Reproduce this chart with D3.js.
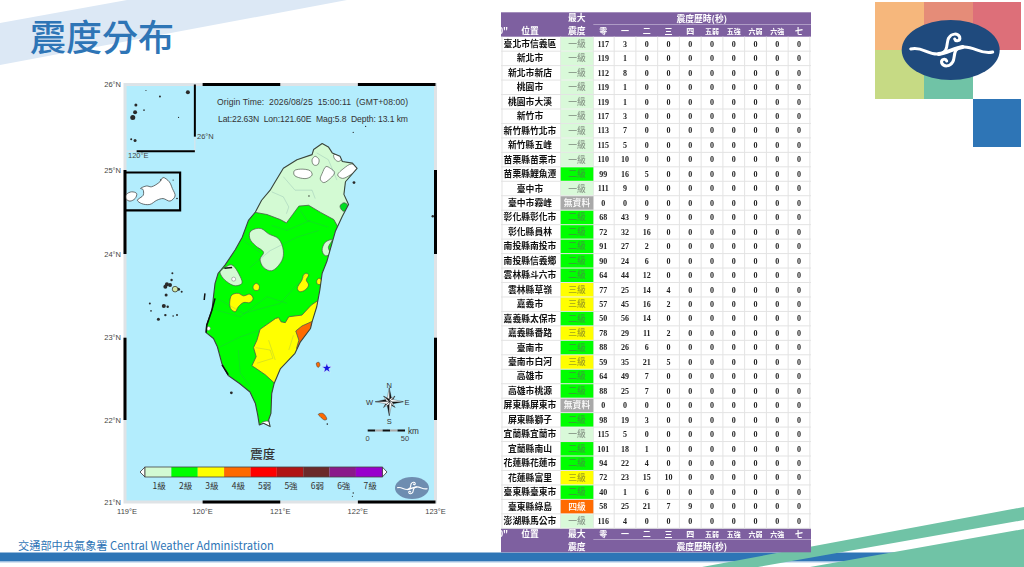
<!DOCTYPE html>
<html><head><meta charset="utf-8"><title>震度分布</title>
<script src="https://cdn.jsdelivr.net/npm/d3@7/dist/d3.min.js"></script>
<style>
html,body{margin:0;padding:0;background:#fff;overflow:hidden}
svg{display:block}
text{white-space:pre}
</style></head><body>
<svg id="c" width="1024" height="567" viewBox="0 0 1024 567"></svg>
<script>
// ---------- station table ----------
const stations=["臺北市信義區","新北市","新北市新店","桃園市","桃園市大溪","新竹市","新竹縣竹北市","新竹縣五峰","苗栗縣苗栗市","苗栗縣鯉魚潭","臺中市","臺中市霧峰","彰化縣彰化市","彰化縣員林","南投縣南投市","南投縣信義鄉","雲林縣斗六市","雲林縣草嶺","嘉義市","嘉義縣太保市","嘉義縣番路","臺南市","臺南市白河","高雄市","高雄市桃源","屏東縣屏東市","屏東縣獅子","宜蘭縣宜蘭市","宜蘭縣南山","花蓮縣花蓮市","花蓮縣富里","臺東縣臺東市","臺東縣綠島","澎湖縣馬公市"];
const maxLevels=["一級","一級","一級","一級","一級","一級","一級","一級","一級","二級","一級","無資料","二級","二級","二級","二級","二級","三級","三級","二級","三級","二級","三級","二級","二級","無資料","二級","一級","二級","二級","三級","二級","四級","一級"];
const durLevels=["零","一","二","三","四","五弱","五強","六弱","六強","七"];
const secLevel0=[117,119,112,119,119,117,113,115,110,99,111,0,68,72,91,90,64,77,57,50,78,88,59,64,88,0,98,115,101,94,72,40,58,116];
const secLevel1=[3,1,8,1,1,3,7,5,10,16,9,0,43,32,27,24,44,25,45,56,29,26,35,49,25,0,19,5,18,22,23,1,25,4];
const secLevel2=[0,0,0,0,0,0,0,0,0,5,0,0,9,16,2,6,12,14,16,14,11,6,21,7,7,0,3,0,1,4,15,6,21,0];
const secLevel3=[0,0,0,0,0,0,0,0,0,0,0,0,0,0,0,0,0,4,2,0,2,0,5,0,0,0,0,0,0,0,10,0,7,0];
const secLevel4=[0,0,0,0,0,0,0,0,0,0,0,0,0,0,0,0,0,0,0,0,0,0,0,0,0,0,0,0,0,0,0,0,9,0];

// ---------- map legend + ticks ----------
const legendLabels=["1級","2級","3級","4級","5弱","5強","6弱","6強","7級"];
const legendColors=["#d3fad3","#00ff00","#ffff00","#ff6a00","#ff0000","#b01515","#6b2a2a","#8a1a8a","#9900cc"];
const lonTicks=[119,120,121,122,123];
const latTicks=[21,22,23,24,25,26];
const latPixels=[502,420,337.7,254,170,84.5];   // Mercator-like spacing of the plotted frame
const epicenter={lon:121.60,lat:22.63};

// ---------- map outlines, [lon,lat] ----------
const taiwan=[[121.54,25.31],[121.43,25.24],[121.41,25.18],[121.215,25.12],[121.04,25.02],[120.935,24.86],[120.87,24.76],[120.76,24.64],[120.68,24.50],[120.59,24.40],[120.51,24.20],[120.42,24.05],[120.29,23.87],[120.20,23.77],[120.16,23.65],[120.14,23.49],[120.12,23.33],[120.05,23.15],[120.045,23.06],[120.14,22.99],[120.19,22.89],[120.25,22.68],[120.33,22.54],[120.48,22.44],[120.61,22.34],[120.68,22.20],[120.71,22.06],[120.73,21.94],[120.785,21.96],[120.87,21.92],[120.85,22.0],[120.88,22.08],[120.89,22.32],[120.92,22.44],[121.00,22.62],[121.19,22.81],[121.26,22.95],[121.39,23.11],[121.41,23.19],[121.47,23.37],[121.51,23.57],[121.54,23.77],[121.60,23.91],[121.71,24.27],[121.80,24.45],[121.88,24.59],[121.82,24.71],[121.84,24.86],[121.99,25.02],[121.93,25.08],[121.80,25.10],[121.77,25.16],[121.67,25.20],[121.62,25.27]];
const level1North=[[120.40,24.465],[120.68,24.495],[120.83,24.47],[121.00,24.41],[121.08,24.37],[121.16,24.47],[121.24,24.57],[121.365,24.58],[121.52,24.495],[121.69,24.41],[121.75,24.31],[122.3,24.31],[122.3,25.5],[120.40,25.5]];
const level0Blobs=[
 [[121.18,24.99],[121.26,25.01],[121.387,24.99],[121.41,24.94],[121.344,24.90],[121.237,24.91],[121.18,24.94]],
 [[121.41,25.12],[121.45,25.16],[121.50,25.12],[121.48,25.06],[121.43,25.06]],
 [[121.59,25.04],[121.645,25.02],[121.70,24.97],[121.645,24.90],[121.56,24.85],[121.516,24.89],[121.54,24.96]],
 [[121.82,25.02],[121.92,25.07],[122.01,25.02],[121.90,24.94],[121.80,24.90],[121.74,24.94]],
 [[121.69,25.18],[121.77,25.18],[121.80,25.14],[121.75,25.10],[121.70,25.13]],
 [[120.74,21.94],[120.785,21.98],[120.86,21.98],[120.89,21.90],[120.74,21.88]]
];
const level2NorthBlob=[[121.77,24.57],[121.82,24.61],[121.87,24.58],[121.86,24.53],[121.81,24.51]];
const level1Blobs=[
 [[120.61,24.26],[120.68,24.30],[120.76,24.30],[120.85,24.24],[120.98,24.18],[121.04,24.04],[121.02,23.92],[120.89,23.80],[120.785,23.84],[120.74,23.94],[120.785,24.02],[120.68,24.10],[120.61,24.18]],
 [[121.54,24.04],[121.58,24.14],[121.67,24.17],[121.62,24.08],[121.645,24.0],[121.58,23.98]],
 [[120.226,23.79],[120.29,23.84],[120.377,23.87],[120.484,23.73],[120.506,23.65],[120.42,23.62],[120.31,23.67],[120.235,23.75]]
];
const level0Spots=[[120.40,23.70],[120.075,23.11]];
const level3Blobs=[
 [[120.65,23.61],[120.69,23.65],[120.73,23.62],[120.72,23.57],[120.665,23.57]],
 [[121.335,23.77],[121.365,23.75],[121.335,23.69],[121.365,23.63],[121.32,23.57],[121.25,23.55],[121.22,23.59],[121.28,23.69],[121.30,23.75]],
 [[121.47,23.68],[121.50,23.71],[121.54,23.68],[121.525,23.64],[121.48,23.64]],
 [[120.376,23.51],[120.46,23.53],[120.527,23.50],[120.61,23.52],[120.65,23.47],[120.61,23.42],[120.527,23.42],[120.46,23.37],[120.42,23.31],[120.36,23.35],[120.35,23.43]]
];
const level3South=[[121.48,23.44],[121.40,23.39],[121.28,23.27],[121.11,23.25],[121.065,23.18],[121.01,23.19],[120.98,23.24],[120.94,23.23],[120.74,23.10],[120.70,22.97],[120.656,22.88],[120.69,22.77],[120.635,22.66],[120.807,22.55],[120.935,22.44],[121.26,22.33],[121.77,22.93],[121.69,23.43]];
const level4East=[[121.40,23.19],[121.28,23.14],[121.20,23.08],[121.24,22.97],[121.21,22.87],[121.39,22.85],[121.56,23.09],[121.45,23.23]];
const boundaries=[
 [[120.89,24.74],[121.04,24.68],[121.11,24.56],[121.08,24.48]],
 [[121.04,24.92],[121.19,24.76],[121.41,24.76],[121.45,24.66]],
 [[121.47,25.20],[121.62,25.12],[121.73,24.88]],
 [[121.26,24.52],[121.344,24.40],[121.62,24.32]],
 [[120.89,24.34],[121.086,24.28],[121.387,24.40]],
 [[120.61,23.84],[120.87,24.04],[121.215,24.20],[121.495,24.28]],
 [[120.527,24.16],[120.74,24.02]],
 [[120.18,23.33],[120.484,23.25],[120.83,23.49],[121.086,23.41]],
 [[120.226,23.45],[120.527,23.29],[121.0,23.41],[121.387,23.81]],
 [[120.226,22.89],[120.484,23.01],[120.74,23.09]],
 [[120.46,22.85],[120.484,22.57],[120.61,22.41]],
 [[120.68,22.88],[120.87,22.85],[120.905,22.75],[120.70,22.69]],
 [[120.85,22.97],[120.935,22.73]],
 [[121.11,22.85],[121.17,23.03]]
];
const boldCoast=[
 [[120.16,23.47],[120.12,23.33],[120.054,23.15],[120.045,23.06]],
 [[120.25,22.67],[120.33,22.55]],
 [[120.28,23.83],[120.38,23.84]],
 [[120.03,23.53],[120.02,23.45]]
];
const kinmen=[[119.20,24.78],[119.28,24.81],[119.34,24.80],[119.45,24.86],[119.49,24.91],[119.57,24.86],[119.61,24.78],[119.645,24.69],[119.58,24.63],[119.49,24.66],[119.41,24.64],[119.32,24.59],[119.215,24.60],[119.16,24.64],[119.235,24.70],[119.23,24.77]];
const littleKinmen=[[119.02,24.71],[119.085,24.74],[119.15,24.72],[119.13,24.66],[119.065,24.63],[119.02,24.65]];
const lanyu=[[121.49,22.07],[121.55,22.08],[121.60,22.01],[121.57,22.0],[121.516,22.04]];
const greenIsland=[[121.465,22.69],[121.50,22.70],[121.51,22.66],[121.485,22.64]];
// [lon,lat,radius in px]
const islets=[[119.81,25.91,2],[119.45,25.86,1],[119.14,25.76,1.5],[119.13,25.675,2],[119.10,25.615,2.5],[119.245,25.70,.8],[119.13,25.345,1.5],[119.08,25.36,1],[119.69,25.615,.6],[119.27,25.93,.6],
 [119.58,23.63,2],[119.60,23.69,1.2],[119.54,23.64,2],[119.52,23.61,2],[119.69,23.58,1.5],[119.73,23.55,1],[119.53,23.51,1.5],[119.61,23.77,1],[119.32,23.41,1],[119.50,23.38,2],[119.55,23.37,1.2],[119.335,23.32,.8],[119.52,23.27,1.2],[119.43,23.22,1.5],[119.62,23.26,.8],[119.67,23.27,1],
 [120.37,22.33,1.4],[121.606,21.95,.8],[121.95,24.85,1.4],[121.37,24.69,.7],[122.1,25.51,.6],[121.94,25.44,.6],[121.94,21.11,.7],[121.93,21.07,.6],[122.965,24.45,1.2],[119.46,24.88,.8],[119.62,24.88,.6],[119.67,24.66,.8]];
const penghuMain=[119.645,23.58,2.8];

// ---------- scales ----------
const x=d3.scaleLinear().domain([119,123]).range([125,435.5]);
const y=d3.scaleLinear().domain(latTicks).range(latPixels);
const rowY=d3.scaleBand().domain(stations).range([36.7,528.3]);
const colX=d3.scalePoint().domain(durLevels).range([603.3,799]);
const legX=d3.scaleBand().domain(legendLabels).range([145,382.3]);

const svg=d3.select("#c");
const defs=svg.append("defs");
const P=d=>[x(d[0]),y(d[1])];
const poly=d3.line().x(d=>x(d[0])).y(d=>y(d[1]));
const blob=d3.line().x(d=>x(d[0])).y(d=>y(d[1])).curve(d3.curveCatmullRomClosed.alpha(.5));
const closed=d=>poly(d)+"Z";
const SANS="'Liberation Sans',Arial,sans-serif", CJK="'Noto Sans CJK TC',sans-serif";

// ---------- slide decoration ----------
svg.append("polygon").attr("points","0,23 127,0 347,0 0,65").attr("fill","#dce8f5");
svg.append("text").attr("x",30).attr("y",51).attr("font-family",CJK).attr("font-size",36).attr("font-weight",500).attr("fill","#2e75b6").text("震度分布");
svg.append("rect").attr("x",0).attr("y",552.5).attr("width",1024).attr("height",9).attr("fill","#2e75b6");
svg.append("rect").attr("x",0).attr("y",561.5).attr("width",1024).attr("height",1).attr("fill","#a8c6e4");
svg.append("polygon").attr("points","702,567 1024,507 1024,520 758,567").attr("fill","#70c3a6");
svg.append("polygon").attr("points","810,567 1024,529 1024,567").attr("fill","#70c3a6");
svg.append("text").attr("x",18).attr("y",550).attr("font-family",CJK).attr("font-size",11.2).attr("fill","#2e75b6").text("交通部中央氣象署 Central Weather Administration");

// top-right logo
[[875,2,49,48,"#f6b77c"],[924,2,49,48,"#e58c78"],[973,2,48,48,"#dd6f79"],[875,50,49,49,"#c6da84"],[924,50,49,49,"#70c3a6"],[973,99,48,48,"#2e75b6"]]
 .forEach(s=>svg.append("rect").attr("x",s[0]).attr("y",s[1]).attr("width",s[2]).attr("height",s[3]).attr("fill",s[4]));
function logo(cx,cy,rx,ry,fill,k){
 const g=svg.append("g").attr("transform",`translate(${cx},${cy})`);
 g.append("ellipse").attr("rx",rx).attr("ry",ry).attr("fill",fill);
 const w=g.append("g").attr("transform",`scale(${k})`).attr("fill","none").attr("stroke","#fff").attr("stroke-linecap","round");
 w.append("path").attr("stroke-width",3).attr("d","M-40,-1C-28,-4 -24,5 -12,4C-1,3 -5,-8 -2,-12C1,-17 7,-17 9,-13C10,-9 5,-8 4,-11");
 w.append("path").attr("stroke-width",3).attr("d","M42,2C30,5 24,-4 12,-3C1,-2 5,8 2,12C-1,17 -7,17 -9,13C-10,9 -5,8 -4,11");
 w.append("path").attr("stroke-width",4).attr("d","M-12,4C-4,3 4,-2 12,-3");
}
logo(950.7,50,49,30,"#1f4a7d",1);

// ---------- map ----------
const map=svg.append("g");
map.append("rect").attr("x",x(119)).attr("y",y(26)).attr("width",x(123)-x(119)).attr("height",y(21)-y(26)).attr("fill","#b3edfd").attr("stroke","#dfe3e6").attr("stroke-width",3);
// frame bars: black on alternate degrees
[[120,121],[122,123]].forEach(b=>[26,21].forEach(la=>map.append("line").attr("x1",x(b[0])).attr("x2",x(b[1])).attr("y1",y(la)).attr("y2",y(la)).attr("stroke","#000").attr("stroke-width",3)));
[[25,24],[23,22]].forEach(b=>[119,123].forEach(lo=>map.append("line").attr("y1",y(b[0])).attr("y2",y(b[1])).attr("x1",x(lo)).attr("x2",x(lo)).attr("stroke","#000").attr("stroke-width",3)));

defs.append("clipPath").attr("id","land").append("path").attr("d",closed(taiwan));
map.append("path").attr("d",closed(taiwan)).attr("fill","#00ff00");
const L=map.append("g").attr("clip-path","url(#land)");
const cStroke="#4d5a4d";
L.append("path").attr("d",closed(level1North)).attr("fill",legendColors[0]).attr("stroke",cStroke).attr("stroke-width",.8);
L.selectAll(null).data(level0Blobs).join("path").attr("d",blob).attr("fill","#fff").attr("stroke",cStroke).attr("stroke-width",.7);
L.append("path").attr("d",blob(level2NorthBlob)).attr("fill","#00dd22").attr("stroke",cStroke).attr("stroke-width",.7);
L.selectAll(null).data(level1Blobs).join("path").attr("d",blob).attr("fill",legendColors[0]).attr("stroke",cStroke).attr("stroke-width",.7);
L.selectAll(null).data(level3Blobs).join("path").attr("d",blob).attr("fill",legendColors[2]).attr("stroke",cStroke).attr("stroke-width",.7);
L.append("path").attr("d",closed(level3South)).attr("fill",legendColors[2]).attr("stroke",cStroke).attr("stroke-width",.8);
L.append("path").attr("d",closed(level4East)).attr("fill",legendColors[3]).attr("stroke",cStroke).attr("stroke-width",.8);
L.selectAll(null).data(level0Spots).join("circle").attr("cx",d=>x(d[0])).attr("cy",d=>y(d[1])).attr("r",2).attr("fill","#fff").attr("stroke","#777").attr("stroke-width",.5);
L.selectAll(null).data(boundaries).join("path").attr("d",poly).attr("fill","none").attr("stroke","#4a7a90").attr("stroke-opacity",.33).attr("stroke-width",.6);
map.append("path").attr("d",closed(taiwan)).attr("fill","none").attr("stroke","#3c4440").attr("stroke-width",1.1).attr("stroke-linejoin","round");
map.selectAll(null).data(boldCoast).join("path").attr("d",poly).attr("fill","none").attr("stroke","#111").attr("stroke-width",1.5);

map.selectAll(null).data(islets).join("circle").attr("cx",d=>x(d[0])).attr("cy",d=>y(d[1])).attr("r",d=>d[2]).attr("fill","#2a2a2a");
map.append("circle").attr("cx",x(penghuMain[0])).attr("cy",y(penghuMain[1])).attr("r",penghuMain[2]).attr("fill","#d3e8a8").attr("stroke","#222").attr("stroke-width",.7);
[lanyu,greenIsland].forEach(d=>map.append("path").attr("d",blob(d)).attr("fill",legendColors[3]).attr("stroke","#444").attr("stroke-width",.6));

// insets
const kinBox=[[119,24.97],[119.71,24.97],[119.71,24.52],[119,24.52]];
map.append("path").attr("d",poly(kinBox)).attr("fill","none").attr("stroke","#000").attr("stroke-width",2.2);
[kinmen,littleKinmen].forEach(d=>map.append("path").attr("d",blob(d)).attr("fill","#fff").attr("stroke","#333").attr("stroke-width",.7));
const matsuBox=[[119,26],[119.9,26],[119.9,25.22],[119,25.22]];
map.append("path").attr("d",poly(matsuBox)+"Z").attr("fill","none").attr("stroke","#d9e4ea").attr("stroke-width",1.2);
map.append("path").attr("d",poly([[119.9,26],[119.9,25.39]])).attr("stroke","#000").attr("stroke-width",2).attr("fill","none");
map.append("path").attr("d",poly([[119.15,25.22],[119.9,25.22]])).attr("stroke","#000").attr("stroke-width",2).attr("fill","none");
map.append("text").attr("x",197).attr("y",138.5).attr("font-family",SANS).attr("font-size",7.5).attr("fill","#444").text("26°N");
map.append("text").attr("x",128).attr("y",158).attr("font-family",SANS).attr("font-size",7.5).attr("fill","#444").text("120°E");

// ticks
map.selectAll(null).data(lonTicks).join("text").attr("x",d=>x(d)+(d==119?2:0)).attr("y",513.5).attr("text-anchor","middle").attr("font-family",SANS).attr("font-size",7.5).attr("fill","#444").text(d=>d+"°E");
map.selectAll(null).data(latTicks).join("text").attr("x",121).attr("y",d=>y(d)+2.5).attr("text-anchor","end").attr("font-family",SANS).attr("font-size",7.5).attr("fill","#444").text(d=>d+"°N");

// header text
const hdr=map.append("g").attr("font-family",SANS).attr("font-size",8.6).attr("fill","#333");
hdr.append("text").attr("x",217).attr("y",105).attr("textLength",191).attr("lengthAdjust","spacing").text("Origin Time:  2026/08/25  15:00:11  (GMT+08:00)");
hdr.append("text").attr("x",218).attr("y",122).attr("textLength",190).attr("lengthAdjust","spacing").text("Lat:22.63N  Lon:121.60E  Mag:5.8  Depth: 13.1 km");

// epicentre
map.append("path").attr("transform",`translate(${x(epicenter.lon)},${y(epicenter.lat)})`).attr("d",d3.symbol(d3.symbolStar,34)()).attr("fill","#1515e0").attr("stroke","#dff6ff").attr("stroke-width",.6);

// compass rose
const rose=map.append("g").attr("transform","translate(389.3,401.7)");
d3.range(8).forEach(i=>{
 const major=i%2==0, len=major?14:8, a=i*Math.PI/4, w=major?2.4:1.8;
 const g=rose.append("g").attr("transform",`rotate(${a*180/Math.PI})`);
 g.append("polygon").attr("points",`0,0 0,${-len} ${w},${-w}`).attr("fill","#111").attr("stroke","#111").attr("stroke-width",.3);
 g.append("polygon").attr("points",`0,0 0,${-len} ${-w},${-w}`).attr("fill","#fff").attr("stroke","#111").attr("stroke-width",.3);
});
[["N",389.3,387.5],["S",389.3,424],["W",369.5,405],["E",407,405]].forEach(t=>map.append("text").attr("x",t[1]).attr("y",t[2]).attr("text-anchor","middle").attr("font-family",SANS).attr("font-size",7.5).attr("fill","#333").text(t[0]));

// scale bar
const barX=d3.scaleLinear().domain([0,50]).range([367.7,405]);
d3.range(5).forEach(i=>map.append("rect").attr("x",barX(i*10)).attr("y",429.5).attr("width",barX(10)-barX(0)).attr("height",2).attr("fill",i%2?"#aaa":"#111"));
map.selectAll(null).data([0,50]).join("text").attr("x",d=>barX(d)).attr("y",440.5).attr("text-anchor","middle").attr("font-family",SANS).attr("font-size",7.5).attr("fill","#444").text(d=>d);
map.append("text").attr("x",408).attr("y",433.5).attr("font-family",SANS).attr("font-size",8.2).attr("fill","#333").text("km");

// legend
map.append("text").attr("x",262.7).attr("y",459).attr("text-anchor","middle").attr("font-family",CJK).attr("font-size",12.5).attr("font-weight",500).attr("fill","#333").text("震度");
map.append("polygon").attr("points","145,467 140,472 145,477").attr("fill","#fff").attr("stroke","#333").attr("stroke-width",.8);
map.append("polygon").attr("points","382.3,467 387,472 382.3,477").attr("fill","#fff").attr("stroke","#333").attr("stroke-width",.8);
map.selectAll(null).data(legendLabels).join("rect").attr("x",d=>legX(d)).attr("y",467).attr("width",legX.bandwidth()).attr("height",10).attr("fill",(d,i)=>legendColors[i]);
map.append("rect").attr("x",145).attr("y",467).attr("width",237.3).attr("height",10).attr("fill","none").attr("stroke","#444").attr("stroke-width",.8);
map.selectAll(null).data(legendLabels).join("text").attr("x",d=>legX(d)+legX.bandwidth()/2+1).attr("y",489).attr("text-anchor","middle").attr("font-family",CJK).attr("font-size",8.5).attr("fill","#333").text(d=>d);
logo(412,488,17,11,"#6e8db0",.36);

// ---------- table ----------
const T=svg.append("g").attr("text-anchor","middle");
const cellBlur="blur(0.3px)";
T.style("filter",cellBlur);
const PURPLE="#7e60a0", tW=[501,811], tx0=560.7, tx1=593.3;
function header(y0,y1,topLine,rowA,rowB){
 T.append("rect").attr("x",tW[0]).attr("y",y0).attr("width",tW[1]-tW[0]).attr("height",y1-y0).attr("fill",PURPLE);
 T.append("line").attr("x1",tx1).attr("x2",tW[1]).attr("y1",topLine).attr("y2",topLine).attr("stroke","#cfc3de").attr("stroke-width",.6);
}
header(12.3,36.7,24.5);
header(528.3,552.3,539.5);
function hText(xp,yp,t,fs){T.append("text").attr("x",xp).attr("y",yp).attr("font-family",CJK).attr("font-size",fs||8.8).attr("font-weight",700).attr("fill","#fff").text(t);}
hText(576.7,21,"最大");hText(530,33.5,"位置");hText(576.7,33.5,"震度");hText(701.7,21.5,"震度歷時(秒)");hText(503,33.5,'0"');
hText(576.7,537,"最大");hText(530,537,"位置");hText(576.7,550,"震度");hText(701.7,550,"震度歷時(秒)");hText(503,537,'0"');
durLevels.forEach(d=>{hText(colX(d),34,d,d.length>1?7:8);hText(colX(d),537,d,d.length>1?7:8);});

// cell grid
const step=rowY.step();
const grid=T.append("g").attr("stroke","#e3e3e3").attr("stroke-width",1);
stations.forEach(s=>grid.append("line").attr("x1",tW[0]).attr("x2",tW[1]).attr("y1",rowY(s)+step).attr("y2",rowY(s)+step));
const colBoundaries=durLevels.map(d=>colX(d)+colX.step()/2);
[tW[0]+1,tx0,tx1].concat(colBoundaries).forEach(b=>grid.append("line").attr("x1",b).attr("x2",b).attr("y1",36.7).attr("y2",528.3));

const levelFill={"一級":"#d9f9d9","二級":"#00ff00","三級":"#ffff00","四級":"#ff6a00","無資料":"#a9a9a9"};
const levelText={"一級":"#8a9a8a","二級":"#33a833","三級":"#a0a020","四級":"#fff","無資料":"#fff"};
T.selectAll(null).data(stations).join("rect").attr("x",tx0).attr("width",tx1-tx0).attr("y",d=>rowY(d)+.5).attr("height",step-1).attr("fill",(d,i)=>levelFill[maxLevels[i]]);
T.selectAll(null).data(stations).join("text").attr("x",530).attr("y",d=>rowY(d)+step/2+3).attr("font-family",CJK).attr("font-size",8.8).attr("font-weight",700).attr("fill","#111").text(d=>d);
T.selectAll(null).data(stations).join("text").attr("x",(tx0+tx1)/2).attr("y",d=>rowY(d)+step/2+3).attr("font-family",CJK).attr("font-size",8.8).attr("font-weight",500).attr("fill",(d,i)=>levelText[maxLevels[i]]).text((d,i)=>maxLevels[i]);
const zero=()=>0;
const secCols=[secLevel0,secLevel1,secLevel2,secLevel3,secLevel4,stations.map(zero),stations.map(zero),stations.map(zero),stations.map(zero),stations.map(zero)];
durLevels.forEach((lv,j)=>{
 T.append("g").selectAll("text").data(stations).join("text").attr("x",colX(lv)).attr("y",d=>rowY(d)+step/2+2.8)
  .attr("font-family","'Liberation Serif',serif").attr("font-size",8).attr("font-weight",700).attr("fill","#222").text((d,i)=>secCols[j][i]);
});
</script>
</body></html>
